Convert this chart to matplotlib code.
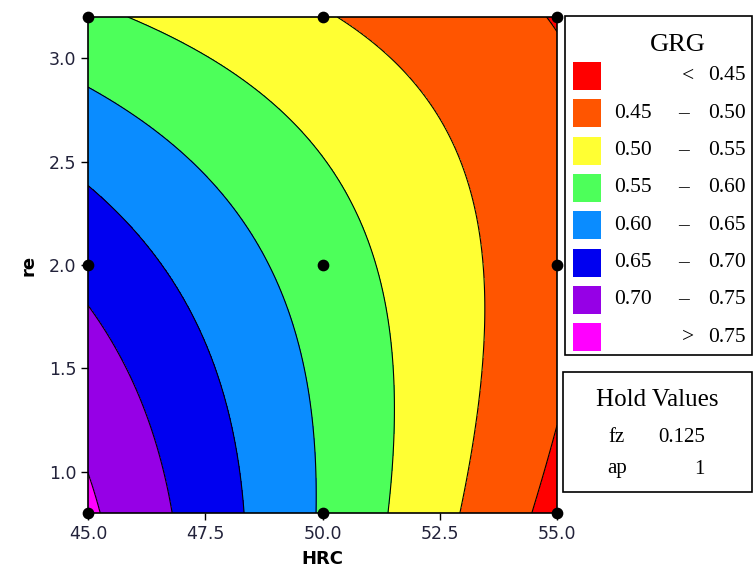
import matplotlib

matplotlib.use("Agg")
import matplotlib.pyplot as plt
import numpy as np
from matplotlib.patches import Rectangle

# fitted response surface for GRG, coded units u=(HRC-50)/5, v=(re-2)/1.2
B0 = 0.575
B_HRC = -0.1095
B_RE = -0.046
B_HRC2 = 0.0
B_RE2 = -0.0255
B_HRC_RE = 0.0535

HRC_RANGE = (45.0, 55.0)
RE_RANGE = (0.8, 3.2)

LEVELS = [0.0, 0.45, 0.50, 0.55, 0.60, 0.65, 0.70, 0.75, 1.0]
COLORS = ["#FF0000", "#FF5500", "#FFFF33", "#4DFF5A", "#0A8CFF", "#0000F0", "#9600E6", "#FF00FF"]
LEGEND_LO = ["", "0.45", "0.50", "0.55", "0.60", "0.65", "0.70", ""]
LEGEND_SEP = ["<", "\u2013", "\u2013", "\u2013", "\u2013", "\u2013", "\u2013", ">"]
LEGEND_HI = ["0.45", "0.50", "0.55", "0.60", "0.65", "0.70", "0.75", "0.75"]

DESIGN_HRC = [45, 45, 45, 50, 50, 50, 55, 55, 55]
DESIGN_RE = [0.8, 2.0, 3.2, 0.8, 2.0, 3.2, 0.8, 2.0, 3.2]

HOLD_NAMES = ["fz", "ap"]
HOLD_VALUES = ["0.125", "1"]

W, H = 754, 576


def grg(hrc, re):
    u = (hrc - 50.0) / 5.0
    v = (re - 2.0) / 1.2
    return B0 + B_HRC * u + B_RE * v + B_HRC2 * u**2 + B_RE2 * v**2 + B_HRC_RE * u * v


def main() -> None:
    fig = plt.figure(figsize=(W / 100, H / 100), dpi=100)
    ax = fig.add_axes([88 / W, 1 - 513 / H, 469 / W, 496 / H])

    x = np.linspace(*HRC_RANGE, 300)
    y = np.linspace(*RE_RANGE, 300)
    X, Y = np.meshgrid(x, y)
    Z = grg(X, Y)
    ax.contourf(X, Y, Z, levels=LEVELS, colors=COLORS)
    ax.contour(X, Y, Z, levels=LEVELS[1:-1], colors="black", linewidths=0.8)
    ax.scatter(DESIGN_HRC, DESIGN_RE, s=55, color="black", zorder=5, clip_on=False)

    ax.set_xlim(*HRC_RANGE)
    ax.set_ylim(*RE_RANGE)
    ax.set_xticks([45, 47.5, 50, 52.5, 55])
    ax.set_xticklabels(["45.0", "47.5", "50.0", "52.5", "55.0"])
    ax.set_yticks([1.0, 1.5, 2.0, 2.5, 3.0])
    ax.set_yticklabels(["1.0", "1.5", "2.0", "2.5", "3.0"])
    ax.tick_params(labelsize=12.5, labelcolor="#22223a", length=5, width=1, direction="out")
    for s in ax.spines.values():
        s.set_linewidth(1.2)
    ax.set_xlabel("HRC", fontsize=13, fontweight="bold", labelpad=5)
    ax.set_ylabel("re", fontsize=13, fontweight="bold", labelpad=8)

    # legend and hold-values boxes drawn in pixel coordinates
    ov = fig.add_axes([0, 0, 1, 1])
    ov.set_xlim(0, W)
    ov.set_ylim(H, 0)
    ov.axis("off")
    serif = "Liberation Serif"
    ov.add_patch(Rectangle((565, 16), 187, 339, fill=False, lw=1.2, ec="black"))
    ov.text(678, 45, "GRG", family=serif, fontsize=19, ha="center", va="center")
    for i, c in enumerate(COLORS):
        yc = 76 + i * 37.3
        ov.add_patch(Rectangle((573, yc - 14), 28, 28, color=c, lw=0))
        if LEGEND_LO[i]:
            ov.text(614, yc, LEGEND_LO[i], family=serif, fontsize=15.5, ha="left", va="center")
        sep_x = 683 if LEGEND_LO[i] else 688
        ov.text(sep_x, yc, LEGEND_SEP[i], family=serif, fontsize=15.5, ha="center", va="center")
        ov.text(746, yc, LEGEND_HI[i], family=serif, fontsize=15.5, ha="right", va="center")

    ov.add_patch(Rectangle((563, 372), 189, 120, fill=False, lw=1.2, ec="black"))
    ov.text(657, 400, "Hold Values", family=serif, fontsize=18, ha="center", va="center")
    for i, (n, v) in enumerate(zip(HOLD_NAMES, HOLD_VALUES)):
        yc = 437 + i * 32
        ov.text(617, yc, n, family=serif, fontsize=15, ha="center", va="center")
        ov.text(705, yc, v, family=serif, fontsize=15, ha="right", va="center")

    fig.savefig("out.png", dpi=100)
    plt.close(fig)


if __name__ == "__main__":
    main()
